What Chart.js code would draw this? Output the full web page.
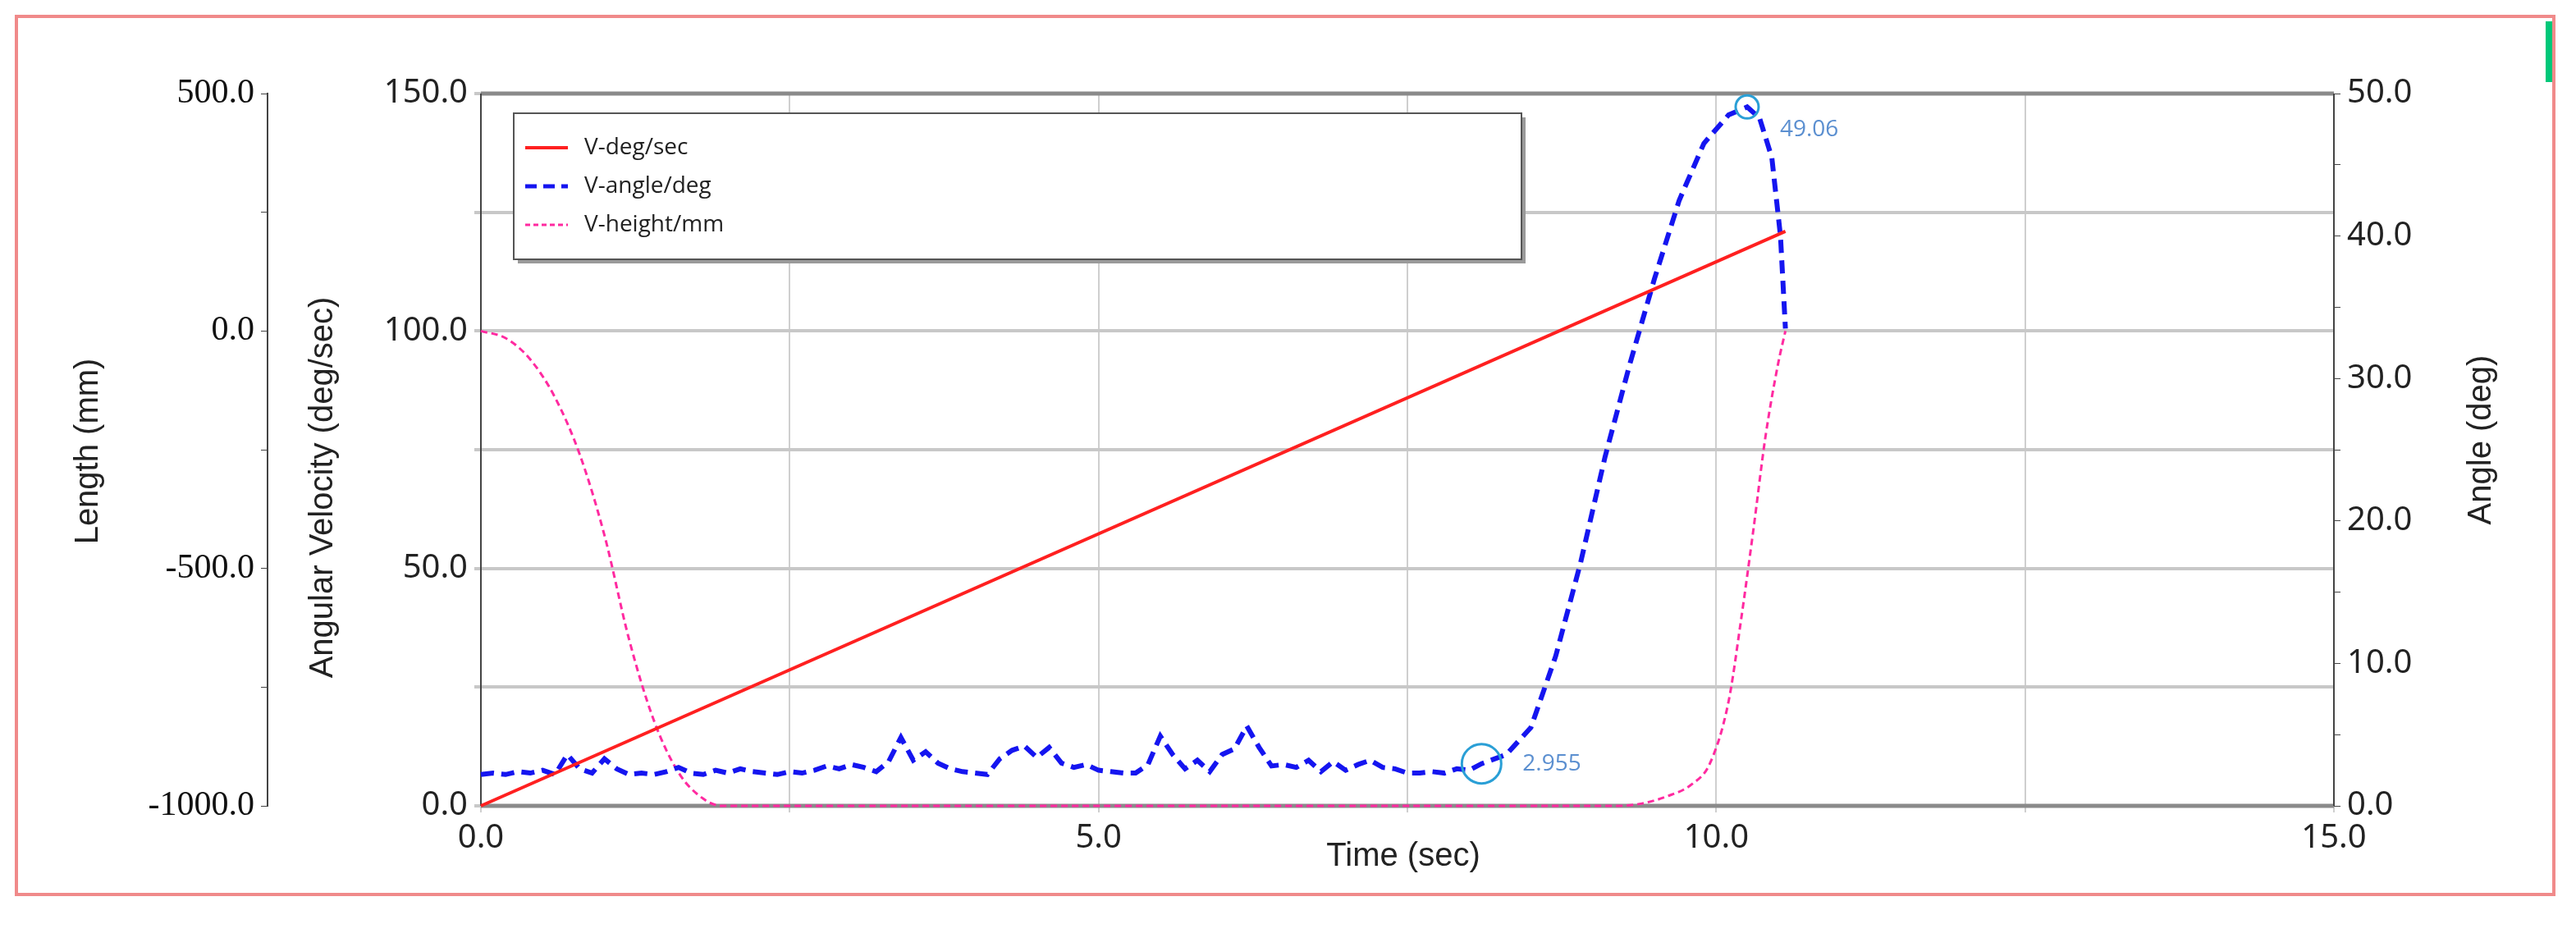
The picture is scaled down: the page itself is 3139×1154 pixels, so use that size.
<!DOCTYPE html>
<html><head><meta charset="utf-8">
<script src="https://cdn.jsdelivr.net/npm/chart.js@4/dist/chart.umd.min.js"></script>
<style>html,body{margin:0;padding:0;background:#fff}canvas{display:block}</style>
</head><body>
<canvas id="c" width="3139" height="1154"></canvas>
<script>
// Data
const velocityTime = [0, 10.56];
const velocityValues = [0, 121];
const angleTime = [0,0.1,0.2,0.3,0.4,0.5,0.6,0.7,0.8,0.9,1.0,1.1,1.2,1.3,1.4,1.5,1.6,1.7,1.8,1.9,2.0,2.1,2.2,2.3,2.4,2.5,2.6,2.7,2.8,2.9,3.0,3.1,3.2,3.3,3.4,3.5,3.6,3.7,3.8,3.9,4.0,4.1,4.2,4.3,4.4,4.5,4.6,4.7,4.8,4.9,5.0,5.1,5.2,5.3,5.4,5.5,5.6,5.7,5.8,5.9,6.0,6.1,6.2,6.3,6.4,6.5,6.6,6.7,6.8,6.9,7.0,7.1,7.2,7.3,7.4,7.5,7.6,7.7,7.8,7.9,8.0,8.1,8.3,8.5,8.7,8.9,9.1,9.3,9.5,9.7,9.9,10.1,10.25,10.35,10.45,10.52,10.56];
const angleValues = [2.2,2.3,2.2,2.4,2.3,2.5,2.2,3.6,2.6,2.3,3.3,2.6,2.2,2.3,2.2,2.4,2.7,2.3,2.2,2.5,2.3,2.6,2.4,2.3,2.2,2.4,2.3,2.5,2.8,2.6,2.9,2.7,2.4,3.1,4.8,3.2,3.8,3.0,2.6,2.4,2.3,2.2,3.3,3.9,4.2,3.4,4.1,3.0,2.7,2.9,2.5,2.4,2.3,2.3,2.9,4.9,3.6,2.6,3.2,2.4,3.6,4.0,5.6,4.1,2.8,2.9,2.7,3.2,2.4,3.1,2.5,2.9,3.2,2.7,2.6,2.3,2.3,2.4,2.3,2.6,2.5,2.955,3.6,5.5,10.5,17,24.5,31,37,42.5,46.5,48.5,49.06,48.3,45.5,40,33.5];
const heightTime = [0,0.2,0.4,0.6,0.8,1.0,1.2,1.4,1.6,1.8,1.95,9.2,9.4,9.6,9.8,9.95,10.1,10.2,10.3,10.4,10.5,10.56];
const heightValues = [0,-15,-60,-140,-260,-430,-650,-820,-930,-985,-1000,-1000,-995,-980,-955,-910,-780,-610,-420,-220,-70,0];
const seriesNames = ['V-deg/sec','V-angle/deg','V-height/mm'];
const markers = [{x:8.1, y:2.955, label:'2.955', r:24}, {x:10.25, y:49.06, label:'49.06', r:14}];

const pts = (xs, ys) => xs.map((x,i)=>({x, y:ys[i]}));
const colors = ['#ff2020','#1515f0','#ff2aa0'];

const framePlugin = {
  id:'frame',
  beforeDraw(ch){
    const c=ch.ctx; c.save(); c.fillStyle='#fff'; c.fillRect(0,0,ch.width,ch.height); c.restore();
  },
  beforeDatasetsDraw(ch){
    const c=ch.ctx, a=ch.chartArea;
    c.save();
    c.strokeStyle='#8a8a8a'; c.lineWidth=5;
    c.beginPath(); c.moveTo(a.left,a.top); c.lineTo(a.right,a.top); c.moveTo(a.left,a.bottom); c.lineTo(a.right,a.bottom); c.stroke();
    c.strokeStyle='#444'; c.lineWidth=2;
    c.beginPath(); c.moveTo(a.left,a.top); c.lineTo(a.left,a.bottom); c.moveTo(a.right,a.top); c.lineTo(a.right,a.bottom); c.stroke();
    c.restore();
  },
  afterDatasetsDraw(ch){
    const c=ch.ctx, s=ch.scales;
    c.save();
    markers.forEach(m=>{
      const px=s.x.getPixelForValue(m.x), py=s.yR.getPixelForValue(m.y);
      c.strokeStyle='#2a9fd6'; c.lineWidth=3;
      c.beginPath(); c.arc(px,py,m.r,0,Math.PI*2); c.stroke();
      c.fillStyle='#5b8fd0'; c.font='28px "Open Sans"'; c.textBaseline='middle'; c.textAlign='left';
      c.fillText(m.label, px+m.r+26, py+ (m.label==='49.06'?28:0));
    });
    const lx=626, ly=138, lw=1228, lh=178;
    c.fillStyle='#9a9a9a'; c.fillRect(lx+5,ly+5,lw,lh);
    c.fillStyle='#fff'; c.fillRect(lx,ly,lw,lh);
    c.strokeStyle='#555'; c.lineWidth=2; c.strokeRect(lx,ly,lw,lh);
    const dashes=[[],[14,8],[6,4]], widths=[4,5,3];
    seriesNames.forEach((n,i)=>{
      const yy=ly+42+i*47;
      c.strokeStyle=colors[i]; c.lineWidth=widths[i]; c.setLineDash(dashes[i]);
      c.beginPath(); c.moveTo(lx+14,yy); c.lineTo(lx+66,yy); c.stroke();
      c.setLineDash([]);
      c.fillStyle='#222'; c.font='28px "Open Sans"'; c.textAlign='left'; c.textBaseline='middle';
      c.fillText(n, lx+86, yy);
    });
    c.restore();
  },
  afterDraw(ch){
    const c=ch.ctx; c.save();
    c.strokeStyle='#f08a8a'; c.lineWidth=4; c.strokeRect(20,20,3092,1070);
    c.fillStyle='#00c87a'; c.fillRect(3102,26,8,74);
    c.fillStyle='#222'; c.font='40px "Liberation Sans"'; c.textAlign='center'; c.textBaseline='middle';
    const vt=(t,x,y)=>{c.save(); c.translate(x,y); c.rotate(-Math.PI/2); c.fillText(t,0,0); c.restore();};
    vt('Length (mm)',108,550);
    vt('Angular Velocity (deg/sec)',394,594);
    vt('Angle (deg)',3024,536);
    c.fillText('Time (sec)',1710,1044);
    c.restore();
  }
};

const tickFont={family:'"Noto Sans"', size:40};
new Chart(document.getElementById('c'), {
  type:'line',
  data:{datasets:[
    {label:seriesNames[0], data:pts(velocityTime,velocityValues), yAxisID:'y', borderColor:colors[0], borderWidth:4, pointRadius:0, clip:false},
    {label:seriesNames[1], data:pts(angleTime,angleValues), yAxisID:'yR', borderColor:colors[1], borderWidth:6, borderDash:[16,9], pointRadius:0, tension:0, clip:false},
    {label:seriesNames[2], data:pts(heightTime,heightValues), yAxisID:'yL', borderColor:colors[2], borderWidth:3, borderDash:[8,5], pointRadius:0, cubicInterpolationMode:'monotone', clip:false}
  ]},
  options:{
    responsive:false, devicePixelRatio:1, animation:false,
    layout:{padding:{left:60,right:60,top:114,bottom:60}},
    plugins:{legend:{display:false}, tooltip:{enabled:false}},
    scales:{
      x:{type:'linear', min:0, max:15, afterFit:s=>{s.height=112;},
        ticks:{stepSize:2.5, color:'#222', font:tickFont, padding:8, maxRotation:0,
          callback:v=> (Math.abs(v%5)<1e-6 ? v.toFixed(1) : '')},
        grid:{color:'#cfcfcf', lineWidth:2, tickLength:8}, border:{display:false}},
      y:{position:'left', min:0, max:150, weight:0, afterFit:s=>{s.width=260;},
        ticks:{stepSize:25, color:'#222', font:tickFont, padding:8,
          callback:v=> (v%50===0 ? v.toFixed(1) : '')},
        grid:{color:'#c8c8c8', lineWidth:4, tickLength:8}, border:{display:false}},
      yL:{position:'left', min:-1000, max:500, weight:1, afterFit:s=>{s.width=266;},
        ticks:{stepSize:250, color:'#111', font:{family:'"Liberation Serif"', size:42}, padding:8,
          callback:v=> (v%500===0 ? v.toFixed(1) : '')},
        grid:{drawOnChartArea:false, color:'#444', tickLength:8}, border:{display:true, color:'#444', width:2}},
      yR:{position:'right', min:0, max:50, afterFit:s=>{s.width=235;},
        ticks:{stepSize:5, color:'#222', font:tickFont, padding:8,
          callback:v=> (v%10===0 ? v.toFixed(1) : '')},
        grid:{drawOnChartArea:false, color:'#444', tickLength:8}, border:{display:false}}
    }
  },
  plugins:[framePlugin]
});
</script>
</body></html>
